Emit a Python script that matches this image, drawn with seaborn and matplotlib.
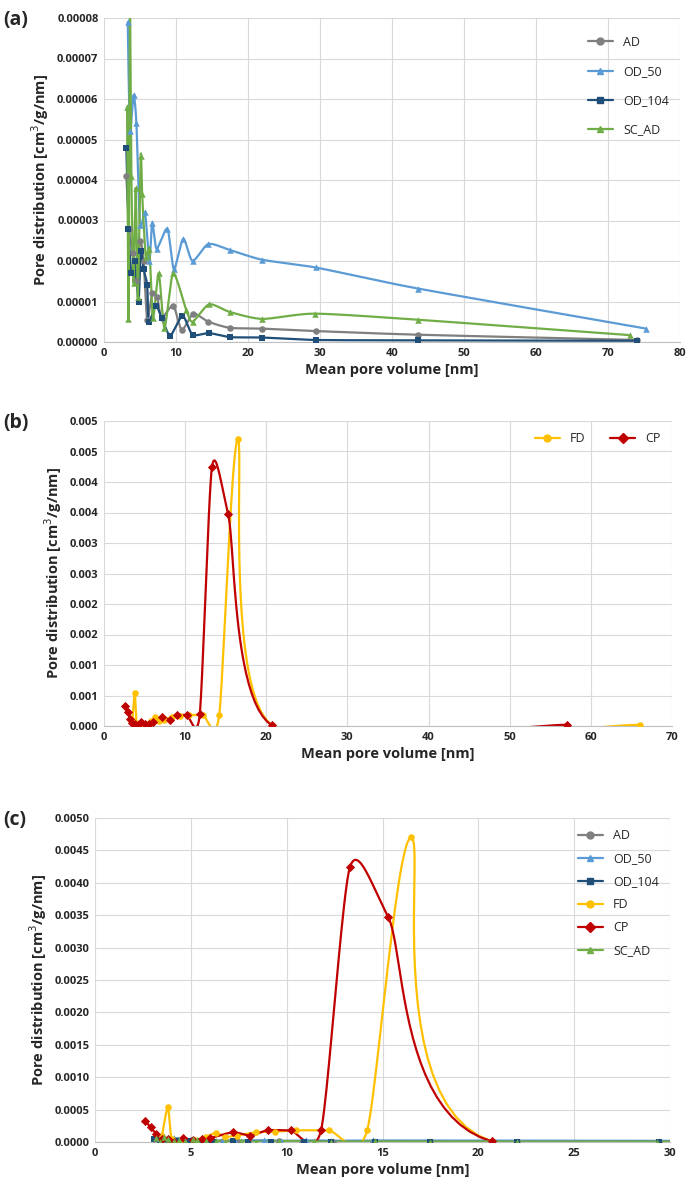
import numpy as np
import matplotlib
matplotlib.use('Agg')
import matplotlib.pyplot as plt
import seaborn as sns
from matplotlib.lines import Line2D
from matplotlib.ticker import FuncFormatter

# panel (a) / (c) series
ad_x = [3.1, 3.5, 4.0, 4.5, 5.0, 5.5, 6.0, 6.7, 7.4, 8.0, 9.6, 10.8, 12.4, 14.5, 17.5, 22.0, 29.4, 43.6, 74.0]
ad_y = [4.1e-5, 2.8e-5, 2.2e-5, 1.5e-5, 2.5e-5, 2.0e-5, 5.5e-6, 1.2e-5, 1.1e-5, 6e-6, 9e-6, 3e-6, 7e-6, 5e-6,
        3.5e-6, 3.3e-6, 2.7e-6, 1.8e-6, 5e-7]
od50_x = [3.3, 3.6, 4.1, 4.5, 5.0, 5.7, 6.3, 6.7, 7.3, 8.8, 9.7, 11.0, 12.3, 14.5, 17.5, 22.0, 29.4, 43.6, 75.3]
od50_y = [7.9e-5, 5.2e-5, 6.1e-5, 5.4e-5, 2.9e-5, 3.2e-5, 2.0e-5, 2.95e-5, 2.3e-5, 2.8e-5, 1.8e-5, 2.55e-5,
          2.0e-5, 2.42e-5, 2.27e-5, 2.03e-5, 1.84e-5, 1.32e-5, 3.3e-6]
od104_x = [3.1, 3.4, 3.8, 4.3, 4.8, 5.1, 5.5, 6.0, 6.2, 7.2, 8.0, 9.2, 10.9, 12.3, 14.6, 17.5, 22.0, 29.4, 43.6, 74.0]
od104_y = [4.8e-5, 2.8e-5, 1.7e-5, 2.0e-5, 1.0e-5, 2.25e-5, 1.8e-5, 1.4e-5, 5e-6, 9e-6, 6e-6, 1.6e-6, 6.5e-6,
           1.8e-6, 2.2e-6, 1.2e-6, 1.1e-6, 5e-7, 4e-7, 3e-7]
sc_x = [3.2, 3.4, 3.6, 3.8, 4.1, 4.4, 4.7, 5.1, 5.3, 5.8, 6.3, 6.8, 7.6, 8.4, 9.6, 11.4, 12.3, 14.6, 17.5, 22.0,
        29.3, 43.6, 73.0]
sc_y = [5.8e-5, 5.7e-6, 8.2e-5, 4.1e-5, 1.45e-5, 3.8e-5, 1.1e-5, 4.6e-5, 3.65e-5, 2.1e-5, 2.3e-5, 6e-6, 1.7e-5,
        3.5e-6, 1.7e-5, 8e-6, 5e-6, 9.3e-6, 7.4e-6, 5.7e-6, 7e-6, 5.5e-6, 1.7e-6]

# panel (b) / (c) series
fd_x = [3.5, 3.8, 4.0, 4.5, 5.2, 5.8, 6.3, 6.8, 7.4, 8.4, 9.4, 10.5, 12.2, 14.2, 16.5, 20.7, 66.0]
fd_y = [0.0001, 0.00054, 0.00005, 0.00002, 0.00003, 0.00008, 0.00014, 0.00008, 0.0001, 0.00015, 0.00016,
        0.00018, 0.00018, 0.00018, 0.0047, 0.00001, 0.00002]
cp_x = [2.6, 2.9, 3.2, 3.5, 3.8, 4.1, 4.6, 5.1, 5.6, 6.0, 7.2, 8.1, 9.0, 10.2, 11.8, 13.3, 15.3, 20.7, 57.0]
cp_y = [0.00033, 0.00023, 0.00012, 0.00005, 0.00004, 0.0, 0.00006, 0.00003, 0.00004, 0.00006, 0.00015, 0.0001,
        0.00018, 0.00018, 0.00019, 0.00424, 0.00347, 0.00001, 0.00002]

C = {'AD': '#7f7f7f', 'OD_50': '#5b9bd5', 'OD_104': '#1f4e79', 'FD': '#ffc000', 'CP': '#c00000', 'SC_AD': '#70ad47'}
M = {'AD': 'o', 'OD_50': '^', 'OD_104': 's', 'FD': 'o', 'CP': 'D', 'SC_AD': '^'}
DATA = {'AD': (ad_x, ad_y), 'OD_50': (od50_x, od50_y), 'OD_104': (od104_x, od104_y),
        'FD': (fd_x, fd_y), 'CP': (cp_x, cp_y), 'SC_AD': (sc_x, sc_y)}


def smooth(x, y, xr, yr, n=24, k=0.7):
    # cardinal spline through the points in normalised axis units (like Excel's smoothed line)
    p = np.column_stack([np.array(x) / xr, np.array(y) / yr])
    p = np.vstack([p[0], p, p[-1]])
    out = []
    t = np.linspace(0, 1, n)[:, None]
    h00 = 2 * t ** 3 - 3 * t ** 2 + 1
    h10 = t ** 3 - 2 * t ** 2 + t
    h01 = -2 * t ** 3 + 3 * t ** 2
    h11 = t ** 3 - t ** 2
    for i in range(1, len(p) - 2):
        p0, p1, p2, p3 = p[i - 1], p[i], p[i + 1], p[i + 2]
        m1 = 0.5 * k * (p2 - p0)
        m2 = 0.5 * k * (p3 - p1)
        out.append(h00 * p1 + h10 * m1 + h01 * p2 + h11 * m2)
    out = np.vstack(out)
    return out[:, 0] * xr, out[:, 1] * yr


sns.set_style('whitegrid', {'grid.color': '#d9d9d9', 'axes.edgecolor': '#d9d9d9'})
plt.rcParams['font.family'] = ['Open Sans', 'DejaVu Sans']

fig = plt.figure(figsize=(6.9, 11.92), dpi=100)
ax_a = fig.add_axes([104 / 690, 1 - 342 / 1192, 576 / 690, 324 / 1192])
ax_b = fig.add_axes([104 / 690, 1 - 726 / 1192, 568 / 690, 305 / 1192])
ax_c = fig.add_axes([95 / 690, 1 - 1142 / 1192, 575 / 690, 324 / 1192])


def draw(ax, names, xr, yr, ms):
    handles = []
    for nm in names:
        x, y = DATA[nm]
        sx, sy = smooth(x, y, xr, yr)
        sns.lineplot(x=sx, y=sy, sort=False, estimator=None, color=C[nm], lw=1.6, ax=ax)
        ax.scatter(x, y, marker=M[nm], color=C[nm], s=ms, zorder=3, linewidths=0)
        handles.append(Line2D([], [], color=C[nm], marker=M[nm], ms=5, lw=1.6, label=nm))
    return handles


h = draw(ax_a, ['AD', 'OD_50', 'OD_104', 'SC_AD'], 80, 0.00008, 22)
ax_a.set_xlim(0, 80)
ax_a.set_ylim(0, 0.00008)
ax_a.set_xticks(range(0, 81, 10))
ax_a.set_yticks(np.arange(0, 0.000081, 0.00001))
ax_a.yaxis.set_major_formatter(FuncFormatter(lambda v, p: f'{v:.5f}'))
ax_a.legend(handles=h, loc='upper right', frameon=False, fontsize=9, labelspacing=1.3,
            bbox_to_anchor=(1.0, 0.98))

h = draw(ax_b, ['FD', 'CP'], 70, 0.005, 22)
ax_b.set_xlim(0, 70)
ax_b.set_ylim(0, 0.005)
ax_b.set_xticks(range(0, 71, 10))
ax_b.set_yticks(np.arange(0, 0.00501, 0.0005))
ax_b.yaxis.set_major_formatter(FuncFormatter(lambda v, p: f'{round(v + 1e-9, 3):.3f}'))
ax_b.legend(handles=h, loc='upper right', frameon=False, fontsize=9, ncol=2, bbox_to_anchor=(1.0, 1.0))

h = draw(ax_c, ['AD', 'OD_50', 'OD_104', 'FD', 'CP', 'SC_AD'], 30, 0.005, 22)
ax_c.set_xlim(0, 30)
ax_c.set_ylim(0, 0.005)
ax_c.set_xticks(range(0, 31, 5))
ax_c.set_yticks(np.arange(0, 0.00501, 0.0005))
ax_c.yaxis.set_major_formatter(FuncFormatter(lambda v, p: f'{v:.4f}'))
ax_c.legend(handles=h, loc='upper right', frameon=False, fontsize=9, labelspacing=0.8,
            bbox_to_anchor=(1.0, 1.0))

for ax, letter in [(ax_a, '(a)'), (ax_b, '(b)'), (ax_c, '(c)')]:
    ax.set_xlabel('Mean pore volume [nm]', fontsize=10.5, fontweight='bold', labelpad=3)
    ax.set_ylabel('Pore distribution [cm$^3$/g/nm]', fontsize=10.5, fontweight='bold')
    ax.tick_params(labelsize=8, length=0, pad=4)
    for t in ax.get_xticklabels() + ax.get_yticklabels():
        t.set_fontweight('bold')
    for s in ax.spines.values():
        s.set_visible(False)
    ax.spines['bottom'].set_visible(True)
    ax.spines['bottom'].set_color('#bfbfbf')
    bb = ax.get_position()
    fig.text(0.005, bb.y1 - 0.002, letter, fontsize=14, fontweight='bold', va='center', ha='left')

fig.savefig('out.png', dpi=100)
